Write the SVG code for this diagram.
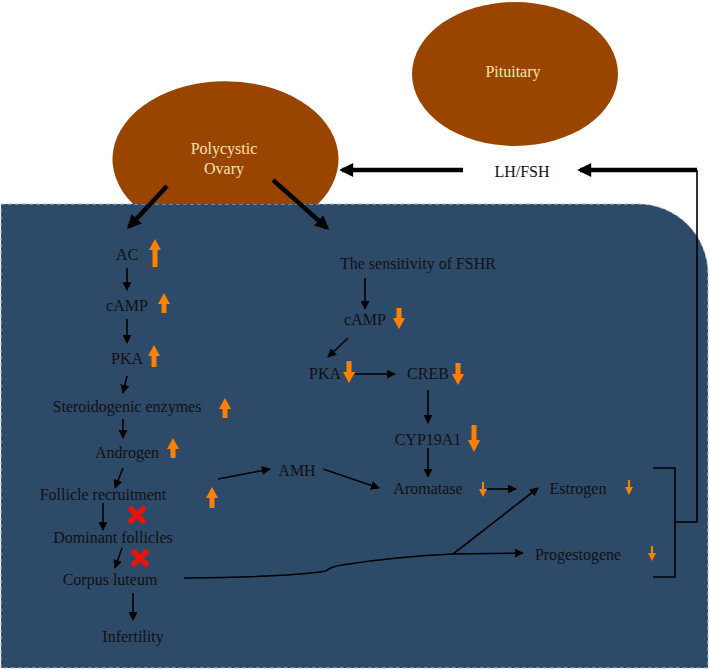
<svg xmlns="http://www.w3.org/2000/svg" width="710" height="670" viewBox="0 0 710 670">
<style>
text{font-family:"Liberation Serif","Times New Roman",serif;font-size:16px;fill:#111;text-anchor:middle}
.lt{fill:#f8e2b4}
.ln{stroke:#000;stroke-width:1.6;fill:none}
.thk{stroke:#000;stroke-width:4.5;fill:none}
.or{fill:#ff8000}
.x{stroke:#e8140c;stroke-width:5.5;stroke-linecap:round}
</style>
<defs>
<marker id="ah" viewBox="0 0 10 10" refX="9" refY="5" markerWidth="9" markerHeight="9" markerUnits="userSpaceOnUse" orient="auto"><path d="M0,0L10,5L0,10z" fill="#000"/></marker>
<marker id="ahb" viewBox="0 0 10 10" refX="8" refY="5" markerWidth="15" markerHeight="14" markerUnits="userSpaceOnUse" orient="auto"><path d="M0,0L10,5L0,10z" fill="#000"/></marker>
</defs>
<g id="background">
<path d="M1,204 H638 A70,70 0 0 1 708,274 V668 H1 Z" fill="#2e4a69" stroke="#b8c0cc" stroke-width="1" stroke-dasharray="4 3"/>
</g>
<g id="pituitary">
<ellipse cx="515" cy="74" rx="103" ry="72" fill="#994500"/>
<text class="lt" x="513" y="77">Pituitary</text>
</g>
<g id="ovary">
<path d="M133,204 A113,78 0 1 1 318,204 Z" fill="#994500"/>
<text class="lt" x="224" y="154">Polycystic</text>
<text class="lt" x="224" y="174">Ovary</text>
</g>
<g id="lhfsh"><text x="522" y="177">LH/FSH</text></g>
<g id="ac"><text x="127" y="260">AC</text></g>
<g id="camp-l"><text x="127" y="311">cAMP</text></g>
<g id="pka-l"><text x="127" y="364">PKA</text></g>
<g id="steroid"><text x="127" y="412">Steroidogenic enzymes</text></g>
<g id="androgen"><text x="127" y="458">Androgen</text></g>
<g id="follicle"><text x="103" y="500">Follicle recruitment</text></g>
<g id="dominant"><text x="113" y="543">Dominant follicles</text></g>
<g id="corpus"><text x="110" y="585">Corpus luteum</text></g>
<g id="infertility"><text x="133" y="642">Infertility</text></g>
<g id="fshr"><text x="418" y="269">The sensitivity of FSHR</text></g>
<g id="camp-r"><text x="365" y="325">cAMP</text></g>
<g id="pka-r"><text x="325" y="379">PKA</text></g>
<g id="creb"><text x="428" y="379">CREB</text></g>
<g id="cyp"><text x="428" y="445">CYP19A1</text></g>
<g id="aromatase"><text x="428" y="494">Aromatase</text></g>
<g id="amh"><text x="297" y="476">AMH</text></g>
<g id="estrogen"><text x="578" y="494">Estrogen</text></g>
<g id="progestogene"><text x="578" y="560">Progestogene</text></g>
<g id="indicators">
<path class="or" d="M155,239 L161,250 L157.5,250 L157.5,267 L152.5,267 L152.5,250 L149,250 Z"/>
<path class="or" d="M164,293 L170,304 L166.5,304 L166.5,313 L161.5,313 L161.5,304 L158,304 Z"/>
<path class="or" d="M154,345 L160,356 L156.5,356 L156.5,367 L151.5,367 L151.5,356 L148,356 Z"/>
<path class="or" d="M225,398 L231,409 L227.5,409 L227.5,418 L222.5,418 L222.5,409 L219,409 Z"/>
<path class="or" d="M173,438 L179,449 L175.5,449 L175.5,458 L170.5,458 L170.5,449 L167,449 Z"/>
<path class="or" d="M212,487 L218,498 L214.5,498 L214.5,508 L209.5,508 L209.5,498 L206,498 Z"/>
<path class="or" d="M399,329 L405,318 L401.5,318 L401.5,308 L396.5,308 L396.5,318 L393,318 Z"/>
<path class="or" d="M349,383 L355,372 L351.5,372 L351.5,361 L346.5,361 L346.5,372 L343,372 Z"/>
<path class="or" d="M458,385 L464,374 L460.5,374 L460.5,363 L455.5,363 L455.5,374 L452,374 Z"/>
<path class="or" d="M474,452 L480,440 L476.5,440 L476.5,425 L471.5,425 L471.5,440 L468,440 Z"/>
<path class="or" d="M483,497 L487,489 L484,489 L484,482 L482,482 L482,489 L479,489 Z"/>
<path class="or" d="M629,495 L633,487 L630,487 L630,480 L628,480 L628,487 L625,487 Z"/>
<path class="or" d="M652,561 L656,553 L653,553 L653,546 L651,546 L651,553 L648,553 Z"/>
<line class="x" x1="131" y1="509" x2="143" y2="521"/>
<line class="x" x1="143" y1="509" x2="131" y2="521"/>
<line class="x" x1="134" y1="552" x2="146" y2="564"/>
<line class="x" x1="146" y1="552" x2="134" y2="564"/>
</g>
<g id="connectors">
<line class="thk" x1="463" y1="170" x2="342" y2="170" marker-end="url(#ahb)"/>
<line class="thk" x1="697" y1="170" x2="580" y2="170" marker-end="url(#ahb)"/>
<polyline class="ln" points="697,170 697,522 675,522"/>
<polyline class="ln" points="653,468 675,468 675,577 653,577"/>
<line class="thk" x1="167" y1="186" x2="129" y2="227" marker-end="url(#ahb)"/>
<line class="thk" x1="273" y1="180" x2="327" y2="228" marker-end="url(#ahb)"/>
<line class="ln" x1="127" y1="268" x2="127" y2="290" marker-end="url(#ah)"/>
<line class="ln" x1="127" y1="319" x2="127" y2="343" marker-end="url(#ah)"/>
<line class="ln" x1="127" y1="376" x2="123" y2="393" marker-end="url(#ah)"/>
<line class="ln" x1="123" y1="419" x2="123" y2="438" marker-end="url(#ah)"/>
<line class="ln" x1="123" y1="468" x2="115" y2="488" marker-end="url(#ah)"/>
<line class="ln" x1="218" y1="479" x2="270" y2="469" marker-end="url(#ah)"/>
<line class="ln" x1="103" y1="503" x2="103" y2="530" marker-end="url(#ah)"/>
<line class="ln" x1="122" y1="548" x2="115" y2="568" marker-end="url(#ah)"/>
<line class="ln" x1="133" y1="593" x2="133" y2="620" marker-end="url(#ah)"/>
<path class="ln" d="M184,578 Q290,577 326,571 Q330,567 342,565 Q400,556 453,554 L523,553" marker-end="url(#ah)"/>
<line class="ln" x1="453" y1="554" x2="538" y2="488" marker-end="url(#ah)"/>
<line class="ln" x1="365" y1="278" x2="365" y2="309" marker-end="url(#ah)"/>
<line class="ln" x1="348" y1="338" x2="328" y2="357" marker-end="url(#ah)"/>
<line class="ln" x1="355" y1="374" x2="395" y2="374" marker-end="url(#ah)"/>
<line class="ln" x1="428" y1="390" x2="428" y2="423" marker-end="url(#ah)"/>
<line class="ln" x1="428" y1="448" x2="428" y2="477" marker-end="url(#ah)"/>
<line class="ln" x1="487" y1="489" x2="516" y2="489" marker-end="url(#ah)"/>
<line class="ln" x1="323" y1="469" x2="379" y2="488" marker-end="url(#ah)"/>
</g>
</svg>
